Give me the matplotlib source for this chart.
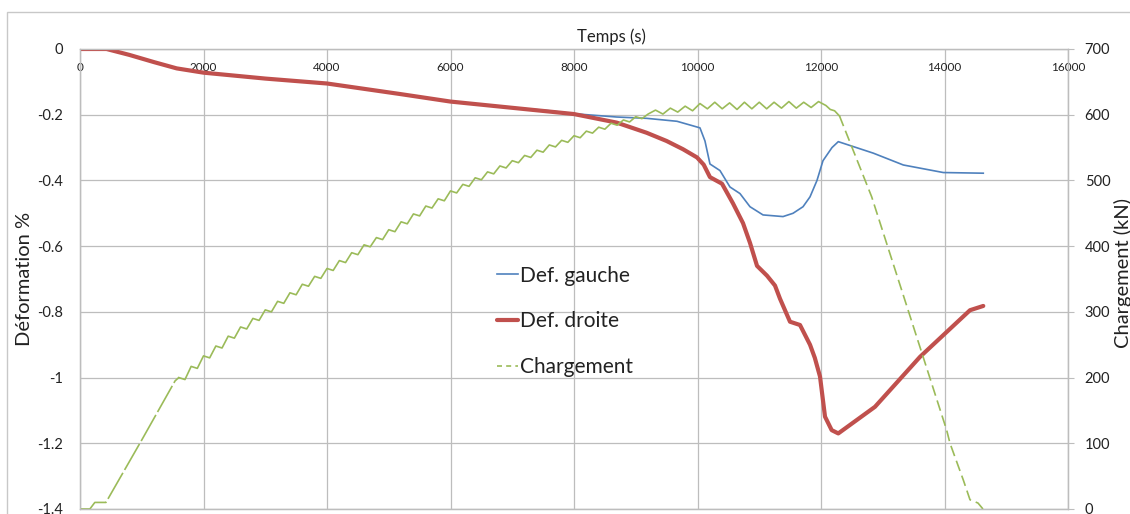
import matplotlib
matplotlib.use("Agg")
import matplotlib.pyplot as plt
from matplotlib.lines import Line2D
from matplotlib.patches import Rectangle
import numpy as np

plt.rcParams['font.family'] = ['Lato', 'DejaVu Sans']

# ---------------- data ----------------
x_ticks = [0, 2000, 4000, 6000, 8000, 10000, 12000, 14000, 16000]
x_tick_labels = ["0", "2000", "4000", "6000", "8000", "10000", "12000", "14000", "16000"]
y_left_ticks = [0, -0.2, -0.4, -0.6, -0.8, -1.0, -1.2, -1.4]
y_left_labels = ["0", "-0.2", "-0.4", "-0.6", "-0.8", "-1", "-1.2", "-1.4"]
y_right_ticks = [0, 100, 200, 300, 400, 500, 600, 700]
y_right_labels = ["0", "100", "200", "300", "400", "500", "600", "700"]

droite_t = [0, 430, 800, 1200, 1566, 2000, 3000, 4000, 5182, 6000, 7000, 8000, 8691,
            9177, 9500, 9765, 9992, 10100, 10202, 10397, 10575, 10737, 10850, 10964,
            11126, 11255, 11336, 11498, 11660, 11822, 11900, 11984, 12065, 12173, 12280,
            12874, 13603, 14413, 14628]
droite_v = [0, 0, -0.018, -0.040, -0.059, -0.072, -0.090, -0.105, -0.137, -0.160, -0.179,
            -0.198, -0.224, -0.255, -0.280, -0.305, -0.330, -0.352, -0.390, -0.410, -0.470,
            -0.530, -0.590, -0.660, -0.690, -0.720, -0.760, -0.830, -0.840, -0.900, -0.940,
            -0.997, -1.119, -1.160, -1.170, -1.089, -0.937, -0.795, -0.782]

gauche_t = [0, 430, 800, 1200, 1566, 2000, 3000, 4000, 5182, 6000, 7000, 7600, 8000, 8691,
            9177, 9668, 10040, 10121, 10202, 10364, 10526, 10688, 10850, 11061, 11385,
            11547, 11709, 11822, 11935, 12032, 12178, 12280, 12847, 13333, 13981, 14628]
gauche_v = [0, 0, -0.018, -0.040, -0.059, -0.072, -0.090, -0.105, -0.137, -0.160, -0.178,
            -0.188, -0.197, -0.207, -0.211, -0.220, -0.240, -0.280, -0.350, -0.370, -0.420,
            -0.440, -0.480, -0.505, -0.510, -0.500, -0.480, -0.450, -0.400, -0.340, -0.300,
            -0.282, -0.317, -0.353, -0.376, -0.378]

charge_t = [0, 160, 240, 420, 1000, 1540,
            1600, 1700, 1800, 1900, 2000, 2100, 2200, 2300, 2400, 2500, 2600, 2700, 2800, 2900,
            3000, 3100, 3200, 3300, 3400, 3500, 3600, 3700, 3800, 3900, 4000, 4100, 4200, 4300,
            4400, 4500, 4600, 4700, 4800, 4900, 5000, 5100, 5200, 5300, 5400, 5500, 5600, 5700,
            5800, 5900, 6000, 6100, 6200, 6300, 6400, 6500, 6600, 6700, 6800, 6900, 7000, 7100,
            7200, 7300, 7400, 7500, 7600, 7700, 7800, 7900, 8000, 8100, 8200, 8300, 8400, 8500,
            8600, 8700, 8800, 8900, 9000, 9100,
            9200, 9320, 9440, 9560, 9680, 9800, 9920, 10040, 10160, 10280, 10400, 10520, 10640,
            10760, 10880, 11000, 11120, 11240, 11360, 11480, 11600, 11720, 11840, 11960, 12080,
            12150, 12220, 12300,
            12821, 14035, 14089, 14305, 14413, 14494, 14543, 14623]
charge_kn = [0, 0, 10, 10, 105, 195,
             200, 197, 217, 214, 233, 230, 248, 245, 263, 260, 277, 274, 290, 287,
             303, 300, 316, 313, 329, 326, 342, 339, 354, 351, 366, 363, 378, 375,
             390, 387, 402, 399, 413, 410, 425, 422, 437, 434, 449, 446, 461, 458,
             472, 469, 484, 481, 494, 491, 504, 501, 513, 510, 522, 519, 530, 527,
             538, 535, 546, 543, 554, 551, 561, 558, 568, 565, 575, 572, 581, 578,
             587, 584, 592, 589, 597, 594,
             601, 607, 601, 610, 604, 613, 606, 617, 609, 619, 609, 618, 608,
             619, 609, 619, 609, 619, 610, 620, 610, 619, 611, 620, 614,
             608, 606, 598,
             475, 120, 100, 44, 14, 11, 9, 0]

# ---------------- figure ----------------
W, H = 1130, 514
fig = plt.figure(figsize=(W / 100, H / 100), dpi=100)
fig.patch.set_facecolor('white')
fig.patches.append(Rectangle((7 / W, -0.2), 1.2, 1.2 - 12 / H, transform=fig.transFigure,
                             fill=False, edgecolor='#c8c8c8', lw=1.0))

ax = fig.add_axes([80 / W, 5 / H, 988 / W, 460 / H])
ax.set_xlim(0, 16000)
ax.set_ylim(-1.4, 0)
ax2 = ax.twinx()
ax2.set_ylim(0, 700)

grid_c = '#bdbdbd'
for a in (ax, ax2):
    for s in a.spines.values():
        s.set_color(grid_c)
        s.set_linewidth(0.9)
ax.grid(True, color=grid_c, lw=0.9)
ax.set_axisbelow(True)

ax.set_xticks(x_ticks)
ax.set_xticklabels(x_tick_labels)
ax.tick_params(axis='x', top=True, bottom=False, labeltop=True, labelbottom=False,
               length=0, pad=-17, labelsize=8.5, labelcolor='#222222')
ax.set_yticks(y_left_ticks)
ax.set_yticklabels(y_left_labels)
ax.tick_params(axis='y', length=0, pad=12, labelsize=10.5, labelcolor='#222222')

ax2.set_yticks(y_right_ticks)
ax2.set_yticklabels(y_right_labels)
ax2.tick_params(axis='y', length=4, color=grid_c, pad=8, labelsize=10.5, labelcolor='#222222')

blue = '#4F81BD'
red = '#C0504D'
green = '#9BBB59'

l1, = ax.plot(gauche_t, gauche_v, color=blue, lw=1.2, zorder=3)
l2, = ax.plot(droite_t, droite_v, color=red, lw=3.0, zorder=4, solid_capstyle='round')

ct = np.array(charge_t, dtype=float)
ck = np.array(charge_kn, dtype=float)
m1 = ct <= 1600
m2 = (ct >= 1600) & (ct <= 12300)
m3 = ct >= 12300
ax2.plot(ct[m1], ck[m1], color=green, lw=1.2, dashes=(18, 2))
ax2.plot(ct[m2], ck[m2], color=green, lw=1.2)
ax2.plot(ct[m3], ck[m3], color=green, lw=1.2, dashes=(6.5, 3))

h3 = Line2D([], [], color=green, lw=1.2, dashes=(3, 2.5))
leg = ax2.legend([l1, l2, h3], ["Def. gauche", "Def. droite", "Chargement"],
                 loc='upper left', bbox_to_anchor=(478 / W, 1 - 247 / H),
                 bbox_transform=fig.transFigure, frameon=False, fontsize=15,
                 handlelength=1.0, handletextpad=0.12, labelspacing=1.23)
for t in leg.get_texts():
    t.set_color('#222222')

fig.text(611 / W, 1 - 37 / H, "Temps (s)", ha='center', va='center', fontsize=12,
         color='#222222')
fig.text(25 / W, 1 - 279 / H, "Déformation %", ha='center', va='center', rotation=90,
         fontsize=14.5, color='#222222')
fig.text(1123 / W, 1 - 273 / H, "Chargement (kN)", ha='center', va='center', rotation=90,
         fontsize=14.5, color='#222222')

fig.savefig("out.png", dpi=100)
